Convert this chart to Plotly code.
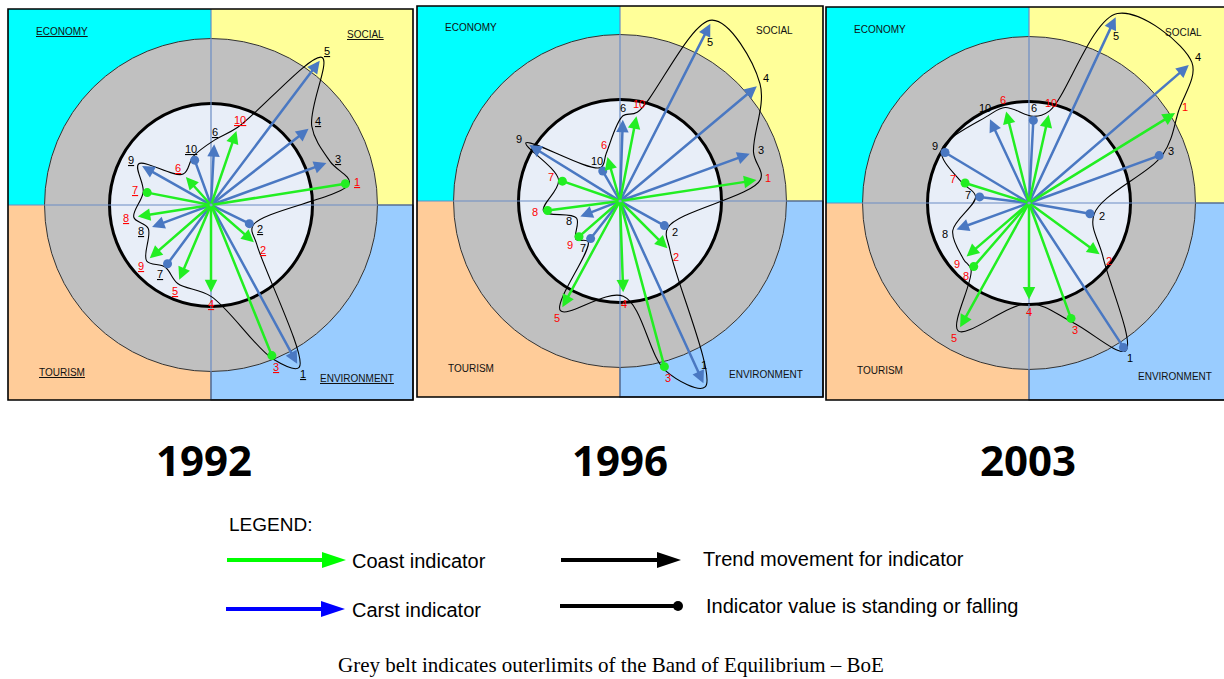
import math
import plotly.graph_objects as go

# ---------------------------------------------------------------------------
# Indicator values per year.
# Direction: degrees, counter-clockwise from east.
# Value: distance from centre, 1.0 = inner limit of the Band of Equilibrium.
# Mark: "arrow" = trend movement, "dot" = value standing or falling.
# ---------------------------------------------------------------------------
YEARS = ["1992", "1996", "2003"]
INDICATOR_IDS = [1, 2, 3, 4, 5, 6, 7, 8, 9, 10]

COAST_DIR_1992 = [9, -41, -68, -90, -113, 132, 169, -171, -139, 71]
COAST_VAL_1992 = [1.34, 0.56, 1.60, 0.86, 0.80, 0.37, 0.64, 0.73, 0.80, 0.77]
COAST_MARK_1992 = ["dot", "arrow", "dot", "arrow", "arrow", "arrow", "dot", "arrow", "arrow", "arrow"]
CARST_DIR_1992 = [-61.5, -26, 20, 38, 53, 87, -126.5, -159.5, 150.5, 110]
CARST_VAL_1992 = [1.78, 0.42, 1.21, 1.22, 1.78, 0.60, 0.72, 0.62, 0.78, 0.47]
CARST_MARK_1992 = ["arrow", "dot", "arrow", "arrow", "arrow", "arrow", "dot", "arrow", "arrow", "dot"]

COAST_DIR_1996 = [8.7, -45, -75, -88, -118.5, 106, 161, -172.5, -139, 79]
COAST_VAL_1996 = [1.36, 0.66, 1.69, 0.90, 1.19, 0.45, 0.60, 0.72, 0.535, 0.85]
COAST_MARK_1996 = ["arrow", "arrow", "dot", "arrow", "arrow", "arrow", "dot", "dot", "dot", "arrow"]
CARST_DIR_1996 = [-65.4, -29, 20, 40, 63, 88, -128, -158.6, 148.3, 120]
CARST_VAL_1996 = [1.975, 0.50, 1.36, 1.76, 1.96, 0.80, 0.47, 0.42, 1.05, 0.34]
CARST_MARK_1996 = ["arrow", "dot", "arrow", "arrow", "arrow", "arrow", "dot", "arrow", "arrow", "dot"]

COAST_DIR_2003 = [31.6, -36, -70, -90, -119, 104, 162.6, -131, -139.4, 77.4]
COAST_VAL_2003 = [1.69, 0.86, 1.21, 0.95, 1.40, 0.93, 0.66, 0.83, 0.81, 0.89]
COAST_MARK_2003 = ["arrow", "arrow", "dot", "arrow", "arrow", "arrow", "dot", "dot", "arrow", "arrow"]
CARST_DIR_2003 = [-56.8, -10, 20, 40.8, 65, 87, 173, -160, 149, 115]
CARST_VAL_2003 = [1.70, 0.61, 1.365, 2.08, 2.02, 0.815, 0.49, 0.76, 0.965, 0.91]
CARST_MARK_2003 = ["dot", "dot", "dot", "arrow", "arrow", "dot", "dot", "arrow", "dot", "arrow"]

SERIES = {
    "1992": ((COAST_DIR_1992, COAST_VAL_1992, COAST_MARK_1992),
             (CARST_DIR_1992, CARST_VAL_1992, CARST_MARK_1992)),
    "1996": ((COAST_DIR_1996, COAST_VAL_1996, COAST_MARK_1996),
             (CARST_DIR_1996, CARST_VAL_1996, CARST_MARK_1996)),
    "2003": ((COAST_DIR_2003, COAST_VAL_2003, COAST_MARK_2003),
             (CARST_DIR_2003, CARST_VAL_2003, CARST_MARK_2003)),
}

QUADRANTS = ["ECONOMY", "SOCIAL", "TOURISM", "ENVIRONMENT"]

# ---------------------------------------------------------------------------
# Page layout
# ---------------------------------------------------------------------------
W, H = 1224, 679
S = 101.5          # pixels per unit (inner circle radius)
R_OUT = 1.64       # outer limit of the grey belt
PANELS = [
    dict(box=(8, 9, 413, 400), center=(211, 205)),
    dict(box=(417, 6, 823, 397), center=(620, 201)),
    dict(box=(826, 7, 1226, 400), center=(1029, 203)),
]
LABELS_INSIDE = {("1996", "carst", 1), ("1996", "carst", 5), ("2003", "carst", 5)}

SANS = "Liberation Sans, Arial, sans-serif"
COAST_COLOR = "#22EE22"
CARST_COLOR = "#4A78C2"
QUAD_FILL = ["#00FFFF", "#FFFF99", "#FFCC99", "#99CCFF"]


def polar(deg, r):
    a = math.radians(deg)
    return r * math.cos(a), r * math.sin(a)


fig = go.Figure()
shapes = []
annotations = []

for k, year in enumerate(YEARS):
    n = "" if k == 0 else str(k + 1)
    xr, yr = "x" + n, "y" + n
    bx0, by0, bx1, by1 = PANELS[k]["box"]
    cx, cy = PANELS[k]["center"]

    dx0, dx1 = bx0 - 2, min(W, bx1 + 2)
    dy0, dy1 = by0 - 2, by1 + 2
    fig.update_layout({
        "xaxis" + n: dict(domain=[dx0 / W, dx1 / W], range=[(dx0 - cx) / S, (dx1 - cx) / S],
                          visible=False, anchor=yr, fixedrange=True),
        "yaxis" + n: dict(domain=[1 - dy1 / H, 1 - dy0 / H], range=[(cy - dy1) / S, (cy - dy0) / S],
                          visible=False, anchor=xr, fixedrange=True),
    })

    L, R = (bx0 - cx) / S, (bx1 - cx) / S
    T, B = (cy - by0) / S, (cy - by1) / S
    base = dict(xref=xr, yref=yr, layer="below")

    # quadrant backgrounds
    quad_boxes = [(L, 0, 0, T), (0, 0, R, T), (L, B, 0, 0), (0, B, R, 0)]
    for (qx0, qy0, qx1, qy1), col in zip(quad_boxes, QUAD_FILL):
        line = dict(width=1.2, color="#333333") if col == "#99CCFF" else dict(width=0)
        shapes.append(dict(type="rect", x0=qx0, y0=qy0, x1=qx1, y1=qy1,
                           fillcolor=col, line=line, **base))
    # grey belt and inner zone
    shapes.append(dict(type="circle", x0=-R_OUT, y0=-R_OUT, x1=R_OUT, y1=R_OUT,
                       fillcolor="#C0C0C0", line=dict(color="#333333", width=1), **base))
    shapes.append(dict(type="circle", x0=-1, y0=-1, x1=1, y1=1,
                       fillcolor="#E8EEF8", line=dict(color="black", width=3), **base))
    # cross lines
    shapes.append(dict(type="line", x0=L, y0=0, x1=R, y1=0,
                       line=dict(color="#6A8CC4", width=1.2), **base))
    shapes.append(dict(type="line", x0=0, y0=B, x1=0, y1=T,
                       line=dict(color="#6A8CC4", width=1.2), **base))
    # frame
    shapes.append(dict(type="rect", x0=L, y0=B, x1=R, y1=T,
                       line=dict(color="black", width=1.6), **base))

    # quadrant titles
    under = k == 0
    q_pos = [(-1.47, 1.71), (1.52, 1.68), (-1.47, -1.65), (1.44, -1.71)]
    for name, (qx, qy) in zip(QUADRANTS, q_pos):
        annotations.append(dict(x=qx, y=qy, xref=xr, yref=yr, showarrow=False,
                                xanchor="center", yanchor="middle",
                                text=f"<u>{name}</u>" if under else name,
                                font=dict(family=SANS, size=10, color="#111111")))

    coast, carst = SERIES[year]

    # trend envelope through all indicator values, ordered by direction
    pts = []
    for dirs, vals, _ in (coast, carst):
        for d, v in zip(dirs, vals):
            pts.append((d, v))
    pts.sort(key=lambda p: -p[0])
    ex, ey = [], []
    for d, v in pts:
        px_, py_ = polar(d, v + 0.04)
        ex.append(px_)
        ey.append(py_)
    ex.append(ex[0])
    ey.append(ey[0])
    fig.add_trace(go.Scatter(x=ex, y=ey, mode="lines", xaxis=xr, yaxis=yr,
                             line=dict(color="black", width=1.1, shape="spline", smoothing=1.0),
                             hoverinfo="skip", showlegend=False))

    # indicators: carst first, coast on top
    for key, (dirs, vals, marks), color, lab_color in (
            ("carst", carst, CARST_COLOR, "black"),
            ("coast", coast, COAST_COLOR, "#FF0000")):
        dot_x, dot_y = [], []
        for idx, d, v, m in zip(INDICATOR_IDS, dirs, vals, marks):
            tx, ty = polar(d, v)
            annotations.append(dict(x=tx, y=ty, ax=0, ay=0, xref=xr, yref=yr, axref=xr, ayref=yr,
                                    showarrow=True, text="", arrowhead=2 if m == "arrow" else 0,
                                    arrowsize=1, arrowwidth=2.5, arrowcolor=color, standoff=0))
            if m == "dot":
                dot_x.append(tx)
                dot_y.append(ty)
            if (year, key, idx) in LABELS_INSIDE:
                lx, ly = polar(d, v - 0.2)
                xs = 9
            else:
                lx, ly = polar(d, v + 0.12)
                xs = 0
            annotations.append(dict(x=lx, y=ly, xref=xr, yref=yr, showarrow=False, xshift=xs,
                                    xanchor="center", yanchor="middle",
                                    text=f"<u>{idx}</u>" if under else str(idx),
                                    font=dict(family=SANS, size=11, color=lab_color)))
        fig.add_trace(go.Scatter(x=dot_x, y=dot_y, mode="markers", xaxis=xr, yaxis=yr,
                                 marker=dict(color=color, size=9, line=dict(width=0)),
                                 hoverinfo="skip", showlegend=False))

# ---------------------------------------------------------------------------
# Year titles, legend and caption (paper coordinates from pixel positions)
# ---------------------------------------------------------------------------
def px(x):
    return x / W


def py(y):
    return 1 - y / H


for year, xc in zip(YEARS, [204, 620, 1028]):
    annotations.append(dict(x=px(xc), y=py(459), xref="paper", yref="paper", showarrow=False,
                            xanchor="center", yanchor="middle",
                            text=f"<b>{year}</b>",
                            font=dict(family="Open Sans, sans-serif", size=42, color="black")))


def legend_text(x, y, text, size=20):
    annotations.append(dict(x=px(x), y=py(y), xref="paper", yref="paper", showarrow=False,
                            xanchor="left", yanchor="middle", text=text,
                            font=dict(family=SANS, size=size, color="black")))


legend_text(227, 524, "LEGEND:", 19)
legend_text(350, 561, "Coast indicator")
legend_text(350, 610, "Carst indicator")
legend_text(701, 559, "Trend movement for indicator")
legend_text(704, 606, "Indicator value is standing or falling")

paper = dict(xref="paper", yref="paper")


def legend_arrow(x0, x1, y, color, head="arrow"):
    tip = x1
    line_end = x1 - 20 if head == "arrow" else x1
    shapes.append(dict(type="line", x0=px(x0), y0=py(y), x1=px(line_end), y1=py(y),
                       line=dict(color=color, width=4), **paper))
    if head == "arrow":
        path = (f"M{px(tip - 24)},{py(y - 8)} L{px(tip)},{py(y)} "
                f"L{px(tip - 24)},{py(y + 8)} Z")
        shapes.append(dict(type="path", path=path, fillcolor=color,
                           line=dict(color=color, width=0), **paper))
    else:
        shapes.append(dict(type="circle", x0=px(x1 - 5), y0=py(y + 5), x1=px(x1 + 5), y1=py(y - 5),
                           fillcolor=color, line=dict(color=color, width=0), **paper))


legend_arrow(227, 346, 560, "#00FF00")
legend_arrow(226, 345, 609, "#0000FF")
legend_arrow(561, 681, 560, "black")
legend_arrow(560, 678, 606, "black", head="dot")

annotations.append(dict(x=px(611), y=py(665), showarrow=False, xanchor="center", yanchor="middle",
                        text="Grey belt indicates outerlimits of the Band of Equilibrium \u2013 BoE",
                        font=dict(family="Liberation Serif, Times New Roman, serif", size=21,
                                  color="black"), **paper))

fig.update_layout(
    width=W, height=H,
    margin=dict(l=0, r=0, t=0, b=0),
    paper_bgcolor="white", plot_bgcolor="rgba(0,0,0,0)",
    showlegend=False,
    shapes=shapes,
    annotations=annotations,
)

fig.write_html("out.html")
